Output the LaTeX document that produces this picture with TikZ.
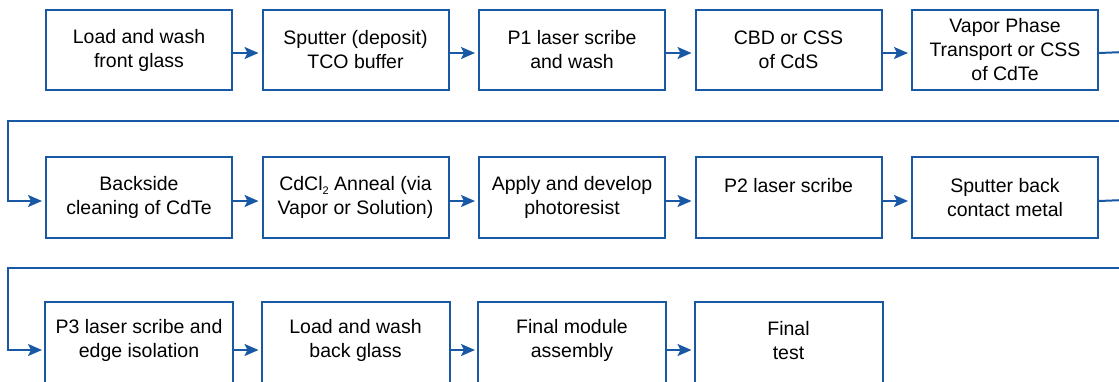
\documentclass[tikz,border=0pt]{standalone}
\usepackage{fontspec}
\setmainfont{Liberation Sans}
\usetikzlibrary{arrows.meta}
\definecolor{fsblue}{RGB}{25,88,164}
\begin{document}
\begin{tikzpicture}[x=1pt,y=-1pt,
  box/.style={draw=fsblue, line width=2pt, minimum width=186pt, minimum height=81pt,
    align=center, font=\fontsize{19.5}{24}\selectfont, inner sep=0pt, anchor=north, text=black},
  openbox/.style={box, draw=none, minimum height=75pt},
  flow/.style={draw=fsblue, line width=2pt, -{Stealth[length=14pt,width=12pt,inset=3pt]}, shorten >=3pt},
  wire/.style={draw=fsblue, line width=2pt}]
\path[use as bounding box] (0,0) rectangle (1119,381);
\clip (0,0) rectangle (1119,381);
% row 1
\node[box, minimum height=80pt] (b1) at (139,9) {Load and wash\\front glass};
\node[box, minimum height=80pt] (b2) at (355.5,9) {Sputter (deposit)\\TCO buffer};
\node[box, minimum height=80pt] (b3) at (572,9) {P1 laser scribe\\and wash};
\node[box, minimum height=80pt] (b4) at (788.5,9) {CBD or CSS\\of CdS};
\node[box, minimum height=80pt] (b5) at (1005,9) {Vapor Phase\\Transport or CSS\\of CdTe};
% row 2
\node[box] (b6) at (139,156) {Backside\\cleaning of CdTe};
\node[box] (b7) at (355.5,156) {CdCl\raisebox{-4pt}{\fontsize{11}{11}\selectfont 2} Anneal (via\\Vapor or Solution)};
\node[box] (b8) at (572,156) {Apply and develop\\photoresist};
\node[box] (b9) at (788.5,156) {P2 laser scribe\\\phantom{x}};
\node[box] (b10) at (1005,156) {Sputter back\\contact metal};
% row 3 (boxes run off the bottom edge)
\node[openbox] (b11) at (139,302) {P3 laser scribe and\\edge isolation};
\node[openbox] (b12) at (355.5,302) {Load and wash\\back glass};
\node[openbox] (b13) at (572,302) {Final module\\assembly};
\node[openbox] (b14) at (788.5,302) {Final\\test};
\draw[wire] (b11.north west) rectangle ([yshift=-30pt]b11.south east);
\draw[wire] (b12.north west) rectangle ([yshift=-30pt]b12.south east);
\draw[wire] (b13.north west) rectangle ([yshift=-30pt]b13.south east);
\draw[wire] (b14.north west) rectangle ([yshift=-30pt]b14.south east);
% row 1 arrows
\draw[flow] ([yshift=-3pt]b1.east) -- ([yshift=-3pt]b2.west);
\draw[flow] ([yshift=-3pt]b2.east) -- ([yshift=-3pt]b3.west);
\draw[flow] ([yshift=-3pt]b3.east) -- ([yshift=-3pt]b4.west);
\draw[flow] ([yshift=-3pt]b4.east) -- ([yshift=-3pt]b5.west);
% return 1
\coordinate (e1) at (1125,52);
\coordinate (r1) at (1125,121);
\coordinate (l1) at (8,121);
\draw[wire] ([yshift=-3pt]b5.east) -- (e1);
\draw[flow] (r1) -- (l1) |- ([yshift=-3.5pt]b6.west);
% row 2 arrows
\draw[flow] ([yshift=-3.5pt]b6.east) -- ([yshift=-3.5pt]b7.west);
\draw[flow] ([yshift=-3.5pt]b7.east) -- ([yshift=-3.5pt]b8.west);
\draw[flow] ([yshift=-3.5pt]b8.east) -- ([yshift=-3.5pt]b9.west);
\draw[flow] ([yshift=-3.5pt]b9.east) -- ([yshift=-3.5pt]b10.west);
% return 2
\coordinate (e2) at (1125,200);
\coordinate (r2) at (1125,268);
\coordinate (l2) at (8,268);
\draw[wire] ([yshift=-3.5pt]b10.east) -- (e2);
\draw[flow] (r2) -- (l2) |- ([yshift=-9.5pt]b11.west);
% row 3 arrows
\draw[flow] ([yshift=-9.5pt]b11.east) -- ([yshift=-9.5pt]b12.west);
\draw[flow] ([yshift=-9.5pt]b12.east) -- ([yshift=-9.5pt]b13.west);
\draw[flow] ([yshift=-9.5pt]b13.east) -- ([yshift=-9.5pt]b14.west);
\end{tikzpicture}
\end{document}
